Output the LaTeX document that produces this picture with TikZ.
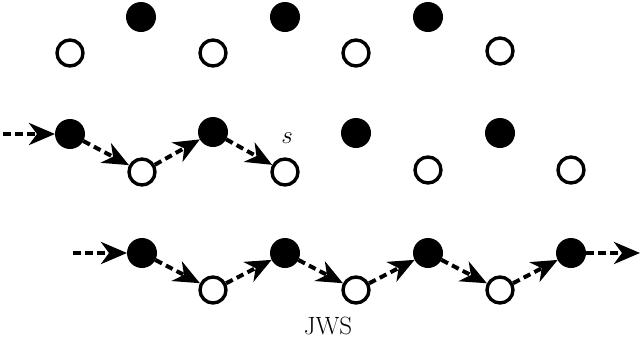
\documentclass[tikz,border=0pt]{standalone}
\usetikzlibrary{arrows.meta}
\begin{document}
\begin{tikzpicture}[x=1pt,y=-1pt,
  full/.style={circle,fill=black,minimum size=30pt,inner sep=0pt,outer sep=0pt},
  hollow/.style={circle,draw=black,fill=white,line width=3.4pt,minimum size=26pt,inner sep=0pt},
  hop/.style={line width=4pt,dash pattern=on 7.5pt off 4.5pt,
    -{Stealth[length=26pt,width=22pt,inset=8pt]}},
  lbl/.style={font=\fontsize{25}{30}\selectfont,inner sep=0pt}]
\useasboundingbox (0,0) rectangle (640,346);

% top row of sites
\node[full]   (a1) at (141,17) {};
\node[full]   (a2) at (285,17) {};
\node[full]   (a3) at (428,17) {};
\node[hollow] (b1) at (70,53) {};
\node[hollow] (b2) at (213,53) {};
\node[hollow] (b3) at (356,53) {};
\node[hollow] (b4) at (500,51) {};

% middle row
\node[full]   (c1) at (70,134) {};
\node[full]   (c2) at (213,132) {};
\node[full]   (c3) at (356,133) {};
\node[full]   (c4) at (500,133) {};
\node[hollow] (d1) at (142,172) {};
\node[hollow] (d2) at (285,172) {};
\node[hollow] (d3) at (428,170) {};
\node[hollow] (d4) at (571,170) {};
\node[lbl] (s) at (287,138) {$s$};

% bottom row
\node[full]   (e1) at (142,253) {};
\node[full]   (e2) at (285,253) {};
\node[full]   (e3) at (428,253) {};
\node[full]   (e4) at (571,253) {};
\node[hollow] (f1) at (213,290) {};
\node[hollow] (f2) at (356,290) {};
\node[hollow] (f3) at (500,290) {};
\node[lbl] (jws) at (328,326) {JWS};

% path ending at s
\coordinate (inc) at (3,134);
\draw[hop] (inc) -- (c1);
\draw[hop] (c1) -- (d1);
\draw[hop] (d1) -- (c2);
\draw[hop] (c2) -- (d2);

% full zig-zag path
\coordinate (inj) at (73,253);
\coordinate (outj) at (640,253);
\draw[hop] (inj) -- (e1);
\draw[hop] (e1) -- (f1);
\draw[hop] (f1) -- (e2);
\draw[hop] (e2) -- (f2);
\draw[hop] (f2) -- (e3);
\draw[hop] (e3) -- (f3);
\draw[hop] (f3) -- (e4);
\draw[hop] (e4) -- (outj);
\end{tikzpicture}
\end{document}
